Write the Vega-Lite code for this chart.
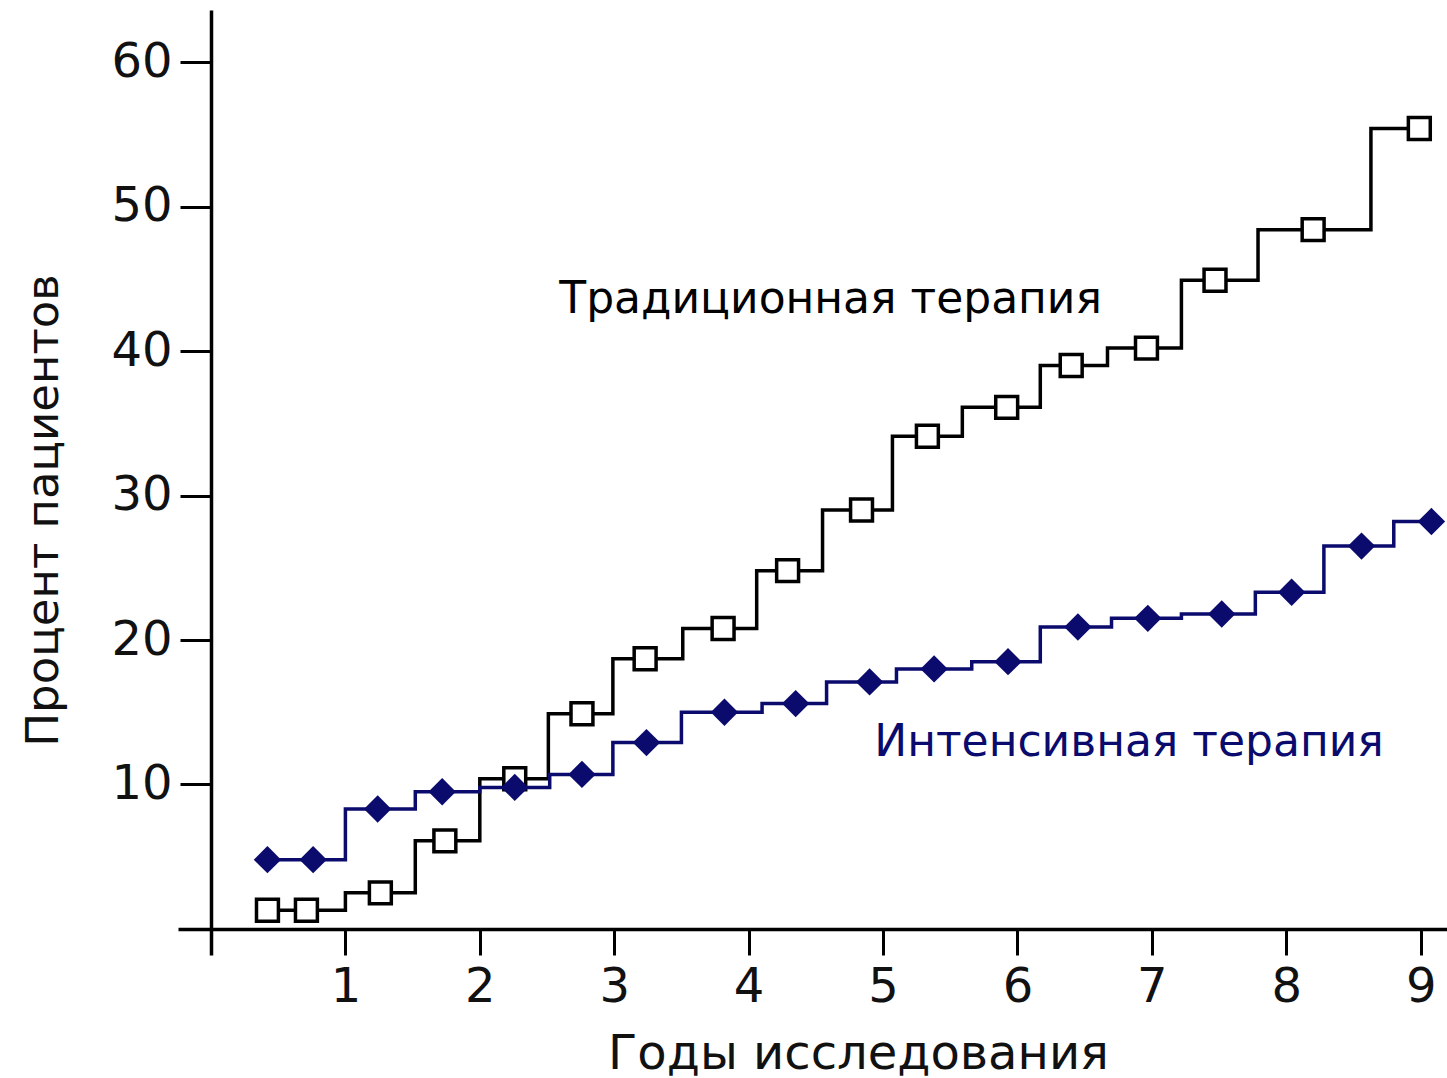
{
  "$schema": "https://vega.github.io/schema/vega-lite/v6.json",
  "width": 1269,
  "height": 945,
  "autosize": "none",
  "padding": {"left": 178, "top": 10, "right": 0, "bottom": 123},
  "background": "white",
  "config": {"view": {"stroke": null}},
  "datasets": {
    "steps": [
      {"series": "Традиционная", "year": 0.42, "pct": 1.3},
      {"series": "Традиционная", "year": 1.0, "pct": 2.5},
      {"series": "Традиционная", "year": 1.52, "pct": 6.1},
      {"series": "Традиционная", "year": 2.0, "pct": 10.4},
      {"series": "Традиционная", "year": 2.51, "pct": 14.9},
      {"series": "Традиционная", "year": 2.99, "pct": 18.7},
      {"series": "Традиционная", "year": 3.51, "pct": 20.8},
      {"series": "Традиционная", "year": 4.06, "pct": 24.8},
      {"series": "Традиционная", "year": 4.55, "pct": 29.0},
      {"series": "Традиционная", "year": 5.07, "pct": 34.1},
      {"series": "Традиционная", "year": 5.59, "pct": 36.1},
      {"series": "Традиционная", "year": 6.17, "pct": 39.0},
      {"series": "Традиционная", "year": 6.67, "pct": 40.2},
      {"series": "Традиционная", "year": 7.22, "pct": 44.9},
      {"series": "Традиционная", "year": 7.79, "pct": 48.4},
      {"series": "Традиционная", "year": 8.63, "pct": 55.4},
      {"series": "Традиционная", "year": 8.99, "pct": 55.4},
      {"series": "Интенсивная", "year": 0.42, "pct": 4.8},
      {"series": "Интенсивная", "year": 1.0, "pct": 8.3},
      {"series": "Интенсивная", "year": 1.52, "pct": 9.5},
      {"series": "Интенсивная", "year": 2.0, "pct": 9.8},
      {"series": "Интенсивная", "year": 2.52, "pct": 10.7},
      {"series": "Интенсивная", "year": 2.99, "pct": 12.9},
      {"series": "Интенсивная", "year": 3.5, "pct": 15.0},
      {"series": "Интенсивная", "year": 4.1, "pct": 15.6},
      {"series": "Интенсивная", "year": 4.58, "pct": 17.1},
      {"series": "Интенсивная", "year": 5.1, "pct": 18.0},
      {"series": "Интенсивная", "year": 5.66, "pct": 18.5},
      {"series": "Интенсивная", "year": 6.17, "pct": 20.9},
      {"series": "Интенсивная", "year": 6.7, "pct": 21.5},
      {"series": "Интенсивная", "year": 7.22, "pct": 21.8},
      {"series": "Интенсивная", "year": 7.77, "pct": 23.3},
      {"series": "Интенсивная", "year": 8.28, "pct": 26.5},
      {"series": "Интенсивная", "year": 8.8, "pct": 28.2},
      {"series": "Интенсивная", "year": 9.08, "pct": 28.2}
    ],
    "markers": [
      {"series": "Традиционная", "year": 0.42, "pct": 1.3},
      {"series": "Традиционная", "year": 0.71, "pct": 1.3},
      {"series": "Традиционная", "year": 1.26, "pct": 2.5},
      {"series": "Традиционная", "year": 1.74, "pct": 6.1},
      {"series": "Традиционная", "year": 2.26, "pct": 10.4},
      {"series": "Традиционная", "year": 2.76, "pct": 14.9},
      {"series": "Традиционная", "year": 3.23, "pct": 18.7},
      {"series": "Традиционная", "year": 3.81, "pct": 20.8},
      {"series": "Традиционная", "year": 4.29, "pct": 24.8},
      {"series": "Традиционная", "year": 4.84, "pct": 29.0},
      {"series": "Традиционная", "year": 5.33, "pct": 34.1},
      {"series": "Традиционная", "year": 5.92, "pct": 36.1},
      {"series": "Традиционная", "year": 6.4, "pct": 39.0},
      {"series": "Традиционная", "year": 6.96, "pct": 40.2},
      {"series": "Традиционная", "year": 7.47, "pct": 44.9},
      {"series": "Традиционная", "year": 8.2, "pct": 48.4},
      {"series": "Традиционная", "year": 8.99, "pct": 55.4},
      {"series": "Интенсивная", "year": 0.42, "pct": 4.8},
      {"series": "Интенсивная", "year": 0.76, "pct": 4.8},
      {"series": "Интенсивная", "year": 1.24, "pct": 8.3},
      {"series": "Интенсивная", "year": 1.72, "pct": 9.5},
      {"series": "Интенсивная", "year": 2.26, "pct": 9.8},
      {"series": "Интенсивная", "year": 2.76, "pct": 10.7},
      {"series": "Интенсивная", "year": 3.24, "pct": 12.9},
      {"series": "Интенсивная", "year": 3.82, "pct": 15.0},
      {"series": "Интенсивная", "year": 4.35, "pct": 15.6},
      {"series": "Интенсивная", "year": 4.9, "pct": 17.1},
      {"series": "Интенсивная", "year": 5.38, "pct": 18.0},
      {"series": "Интенсивная", "year": 5.93, "pct": 18.5},
      {"series": "Интенсивная", "year": 6.45, "pct": 20.9},
      {"series": "Интенсивная", "year": 6.97, "pct": 21.5},
      {"series": "Интенсивная", "year": 7.52, "pct": 21.8},
      {"series": "Интенсивная", "year": 8.04, "pct": 23.3},
      {"series": "Интенсивная", "year": 8.56, "pct": 26.5},
      {"series": "Интенсивная", "year": 9.08, "pct": 28.2}
    ],
    "labels": [
      {"series": "Традиционная", "label": "Традиционная терапия", "year": 4.61, "pct": 42.6},
      {"series": "Интенсивная", "label": "Интенсивная терапия", "year": 6.83, "pct": 12.0}
    ]
  },
  "encoding": {
    "x": {
      "field": "year", "type": "quantitative",
      "scale": {"domain": [-0.2455, 9.196], "nice": false, "zero": false},
      "axis": {
        "orient": "bottom", "offset": -26, "values": [1, 2, 3, 4, 5, 6, 7, 8, 9],
        "grid": false, "domainColor": "#000", "domainWidth": 3.5,
        "tickColor": "#000", "tickWidth": 3, "tickSize": 26,
        "labelFont": "DejaVu Sans", "labelFontSize": 48, "labelColor": "#111",
        "labelPadding": 8, "labelFlush": false, "labelOverlap": false, "labelBound": false,
        "title": "Годы исследования", "titleFont": "DejaVu Sans", "titleFontSize": 48,
        "titleFontWeight": "normal", "titleColor": "#111",
        "titleX": 680, "titleY": 139, "titleBaseline": "alphabetic", "titleAlign": "center", "titleAnchor": null
      }
    },
    "y": {
      "field": "pct", "type": "quantitative",
      "scale": {"domain": [-1.8, 63.6], "nice": false, "zero": false},
      "axis": {
        "orient": "left", "offset": -33, "values": [10, 20, 30, 40, 50, 60],
        "grid": false, "domainColor": "#000", "domainWidth": 3.5,
        "tickColor": "#000", "tickWidth": 3, "tickSize": 31,
        "labelFont": "DejaVu Sans", "labelFontSize": 48, "labelColor": "#111",
        "labelPadding": 8, "labelFlush": false, "labelOverlap": false, "labelBound": false,
        "title": "Процент пациентов", "titleFont": "DejaVu Sans", "titleFontSize": 45,
        "titleFontWeight": "normal", "titleColor": "#111",
        "titleX": -154, "titleY": 500, "titleBaseline": "alphabetic", "titleAlign": "center", "titleAngle": -90, "titleAnchor": null
      }
    },
    "color": {
      "field": "series", "type": "nominal",
      "scale": {"domain": ["Традиционная", "Интенсивная"], "range": ["#000000", "#0b0b6e"]},
      "legend": null
    }
  },
  "layer": [
    {
      "data": {"name": "steps"},
      "transform": [{"filter": "datum.series === 'Традиционная'"}],
      "mark": {"type": "line", "interpolate": "step-after", "strokeWidth": 3.5}
    },
    {
      "data": {"name": "markers"},
      "transform": [{"filter": "datum.series === 'Традиционная'"}],
      "mark": {"type": "point", "shape": "square", "filled": false, "fill": "white", "fillOpacity": 1, "strokeWidth": 3.5, "size": 480, "opacity": 1}
    },
    {
      "data": {"name": "steps"},
      "transform": [{"filter": "datum.series === 'Интенсивная'"}],
      "mark": {"type": "line", "interpolate": "step-after", "strokeWidth": 3.5}
    },
    {
      "data": {"name": "markers"},
      "transform": [{"filter": "datum.series === 'Интенсивная'"}],
      "mark": {"type": "point", "shape": "diamond", "filled": true, "size": 750, "opacity": 1}
    },
    {
      "data": {"name": "labels"},
      "mark": {"type": "text", "font": "DejaVu Sans", "fontSize": 44, "align": "center", "baseline": "alphabetic"},
      "encoding": {"text": {"field": "label"}}
    }
  ]
}
